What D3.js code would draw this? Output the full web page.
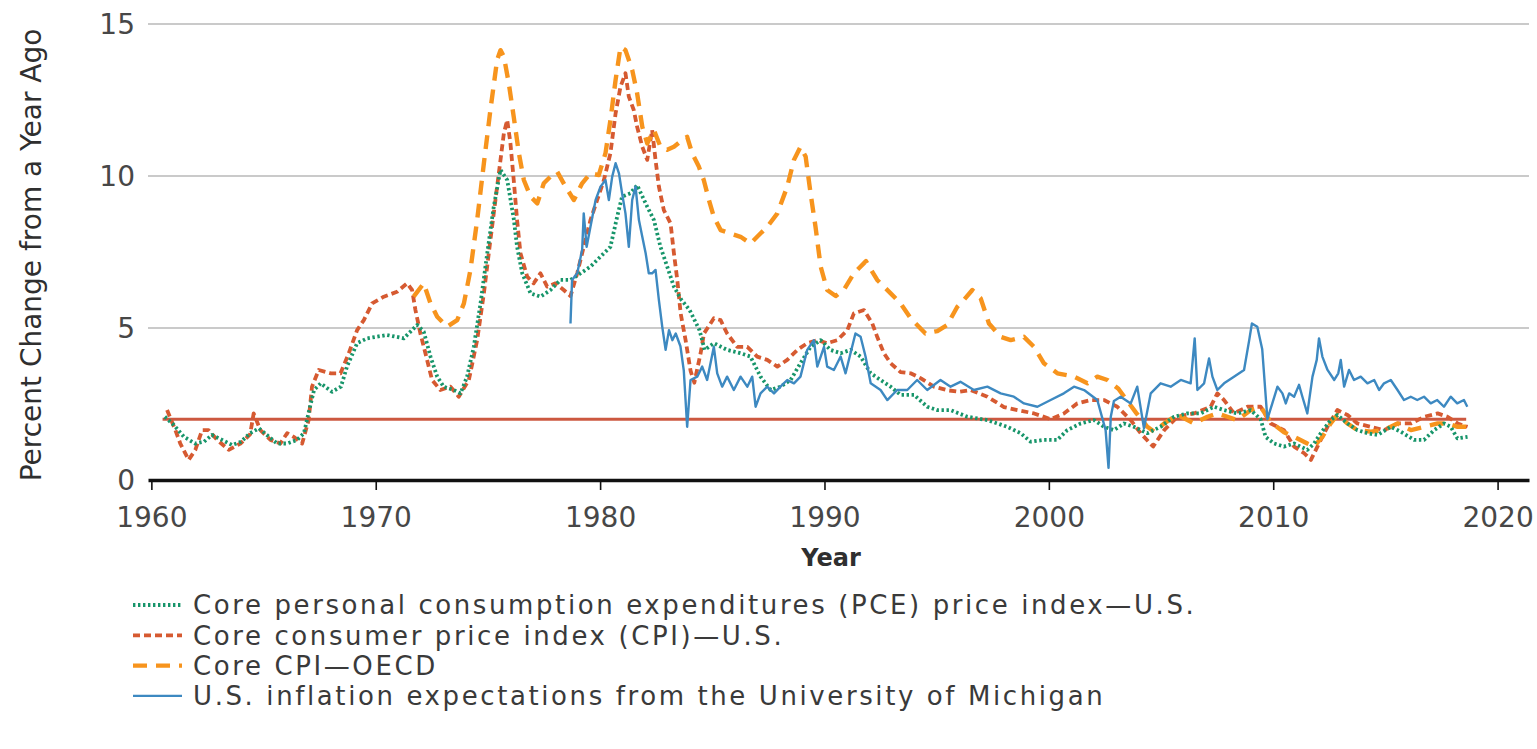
<!DOCTYPE html>
<html>
<head>
<meta charset="utf-8">
<script src="https://cdn.jsdelivr.net/npm/d3@7"></script>
<style>
  body { margin: 0; background: #fff; }
  svg { display: block; font-family: "DejaVu Sans", sans-serif; }
</style>
</head>
<body>
<svg id="canvas" width="1537" height="749"></svg>
<script>
// values: [year, percent change]
let pceData = [
  [1960.6, 2.08], [1961.0, 1.81], [1961.45, 1.42], [1961.95, 1.2], [1962.35, 1.26], [1962.7, 1.48],
  [1963.15, 1.32], [1963.6, 1.15], [1964.0, 1.26], [1964.4, 1.54], [1964.8, 1.7], [1965.15, 1.48],
  [1965.6, 1.2], [1966.05, 1.2], [1966.5, 1.32], [1966.8, 1.54], [1967.0, 2.19], [1967.25, 2.96],
  [1967.55, 3.18], [1968.05, 2.9], [1968.45, 3.07], [1968.72, 3.73], [1969.17, 4.5], [1969.62, 4.66],
  [1970.5, 4.77], [1971.25, 4.66], [1971.85, 5.1], [1972.14, 4.88], [1972.44, 4.06], [1972.74, 3.4],
  [1973.03, 3.07], [1973.48, 2.96], [1973.78, 2.85], [1974.07, 3.4], [1974.37, 4.38], [1974.67, 5.81],
  [1974.97, 7.46], [1975.26, 8.99], [1975.56, 10.2], [1975.86, 9.87], [1976.15, 8.6], [1976.3, 7.67],
  [1976.53, 6.8], [1976.9, 6.14], [1977.34, 6.03], [1977.79, 6.25], [1978.23, 6.58], [1978.68, 6.58],
  [1979.13, 6.8], [1979.57, 7.02], [1980.02, 7.35], [1980.46, 7.67], [1980.76, 8.66], [1980.98, 9.32],
  [1981.35, 9.43], [1981.65, 9.7], [1982.1, 8.99], [1982.4, 8.55], [1982.69, 7.67], [1982.99, 7.02],
  [1983.29, 6.36], [1983.6, 5.95], [1983.99, 5.59], [1984.43, 4.93], [1984.66, 4.28], [1985.07, 4.5],
  [1985.66, 4.28], [1986.26, 4.17], [1986.7, 4.06], [1987.15, 3.4], [1987.6, 2.96], [1988.04, 3.07],
  [1988.49, 3.29], [1988.93, 3.84], [1989.38, 4.38], [1989.83, 4.6], [1990.27, 4.28], [1990.72, 4.17],
  [1991.16, 4.28], [1991.61, 4.06], [1992.06, 3.51], [1992.5, 3.29], [1992.95, 3.07], [1993.39, 2.8],
  [1993.99, 2.8], [1994.58, 2.41], [1995.03, 2.3], [1995.62, 2.3], [1996.37, 2.08], [1997.26, 1.97],
  [1998.15, 1.75], [1998.74, 1.54], [1999.19, 1.26], [1999.78, 1.32], [2000.38, 1.32], [2000.82, 1.64],
  [2001.42, 1.86], [2002.01, 1.97], [2002.46, 1.75], [2002.9, 1.64], [2003.35, 1.86], [2003.79, 1.75],
  [2004.39, 1.54], [2004.98, 1.75], [2005.58, 2.08], [2006.17, 2.19], [2006.77, 2.19], [2007.36, 2.41],
  [2007.81, 2.3], [2008.4, 2.19], [2009.0, 2.3], [2009.44, 2.0], [2009.66, 1.42], [2010.04, 1.2],
  [2010.48, 1.1], [2010.93, 1.2], [2011.52, 0.99], [2011.82, 1.2], [2012.12, 1.54], [2012.56, 1.97],
  [2012.86, 2.14], [2013.31, 1.86], [2013.75, 1.64], [2014.2, 1.54], [2014.65, 1.48], [2015.24, 1.75],
  [2015.68, 1.59], [2016.28, 1.32], [2016.72, 1.32], [2017.17, 1.64], [2017.62, 1.86], [2017.91, 1.75],
  [2018.21, 1.37], [2018.66, 1.42]
];

let cpiData = [
  [1960.7, 2.3], [1961.07, 1.64], [1961.29, 1.2], [1961.66, 0.66], [1961.96, 0.99], [1962.26, 1.64],
  [1962.55, 1.64], [1962.93, 1.32], [1963.45, 0.99], [1963.97, 1.2], [1964.4, 1.5], [1964.56, 2.19],
  [1964.86, 1.64], [1965.31, 1.32], [1965.75, 1.2], [1966.05, 1.54], [1966.34, 1.42], [1966.72, 1.2],
  [1967.01, 1.97], [1967.16, 3.07], [1967.46, 3.62], [1967.98, 3.51], [1968.43, 3.51], [1968.8, 4.17],
  [1969.17, 4.93], [1969.47, 5.26], [1969.84, 5.81], [1970.36, 6.03], [1970.95, 6.19], [1971.4, 6.47],
  [1971.62, 6.25], [1971.77, 5.59], [1971.99, 4.82], [1972.29, 3.95], [1972.51, 3.29], [1972.88, 2.96],
  [1973.33, 3.07], [1973.7, 2.74], [1974.15, 3.29], [1974.52, 4.6], [1974.82, 6.14], [1975.11, 7.89],
  [1975.41, 9.65], [1975.71, 11.4], [1975.86, 11.84], [1976.0, 11.1], [1976.15, 9.87], [1976.3, 8.55],
  [1976.45, 7.46], [1976.75, 6.69], [1977.04, 6.47], [1977.34, 6.8], [1977.64, 6.36], [1978.01, 6.47],
  [1978.38, 6.25], [1978.68, 6.05], [1978.98, 6.8], [1979.27, 7.67], [1979.57, 8.55], [1979.87, 9.21],
  [1980.17, 9.87], [1980.46, 10.75], [1980.69, 12.06], [1980.91, 12.94], [1981.13, 13.38], [1981.28, 12.61],
  [1981.5, 12.17], [1981.65, 11.62], [1981.88, 10.96], [1982.1, 10.53], [1982.32, 11.51], [1982.47, 10.53],
  [1982.62, 9.65], [1982.84, 8.88], [1983.14, 8.44], [1983.29, 7.46], [1983.44, 6.58], [1983.59, 5.48],
  [1983.81, 4.6], [1984.03, 3.6], [1984.2, 3.2], [1984.48, 4.17], [1984.63, 4.82], [1985.07, 5.32],
  [1985.37, 5.26], [1985.66, 4.82], [1986.11, 4.38], [1986.56, 4.38], [1987.0, 4.06], [1987.45, 3.95],
  [1987.9, 3.73], [1988.34, 3.95], [1988.79, 4.28], [1989.23, 4.5], [1989.68, 4.6], [1990.12, 4.5],
  [1990.57, 4.6], [1991.02, 4.93], [1991.31, 5.48], [1991.76, 5.59], [1992.13, 5.15], [1992.35, 4.71],
  [1992.65, 4.17], [1992.95, 3.84], [1993.39, 3.55], [1993.84, 3.51], [1994.28, 3.35], [1994.88, 3.07],
  [1995.5, 2.95], [1996.0, 2.9], [1996.51, 2.96], [1997.26, 2.74], [1998.0, 2.4], [1998.6, 2.3],
  [1999.34, 2.19], [2000.08, 2.0], [2000.67, 2.19], [2001.27, 2.52], [2001.86, 2.63], [2002.46, 2.63],
  [2003.05, 2.41], [2003.65, 1.97], [2004.09, 1.54], [2004.65, 1.1], [2005.14, 1.64], [2005.73, 2.08],
  [2006.47, 2.19], [2007.21, 2.41], [2007.51, 2.85], [2007.81, 2.63], [2008.25, 2.19], [2008.85, 2.41],
  [2009.44, 2.41], [2009.89, 1.86], [2010.48, 1.64], [2010.93, 1.1], [2011.38, 0.88], [2011.68, 0.66],
  [2011.97, 1.1], [2012.42, 1.75], [2012.86, 2.3], [2013.31, 2.14], [2013.75, 1.86], [2014.35, 1.75],
  [2014.94, 1.64], [2015.54, 1.86], [2016.14, 1.86], [2016.73, 2.08], [2017.33, 2.19], [2017.77, 2.08],
  [2018.22, 1.86], [2018.66, 1.75]
];

let oecdData = [
  [1971.69, 6.03], [1972.14, 6.47], [1972.44, 5.81], [1972.74, 5.37], [1973.18, 5.04], [1973.63, 5.26],
  [1973.93, 5.81], [1974.22, 6.91], [1974.52, 8.55], [1974.82, 10.42], [1975.11, 12.17], [1975.41, 13.82],
  [1975.56, 14.14], [1975.71, 13.93], [1975.93, 13.05], [1976.15, 11.95], [1976.38, 10.75], [1976.6, 9.87],
  [1976.9, 9.32], [1977.2, 9.1], [1977.49, 9.76], [1977.79, 9.98], [1978.09, 10.14], [1978.46, 9.65],
  [1978.83, 9.21], [1979.2, 9.76], [1979.57, 10.09], [1979.94, 10.03], [1980.24, 10.75], [1980.46, 11.84],
  [1980.69, 13.16], [1980.91, 14.25], [1981.13, 14.14], [1981.43, 13.49], [1981.65, 12.72], [1981.88, 11.62],
  [1982.1, 11.07], [1982.4, 11.51], [1982.69, 10.96], [1982.99, 10.86], [1983.29, 10.96], [1983.66, 11.18],
  [1983.88, 11.29], [1984.1, 10.75], [1984.4, 10.31], [1984.62, 9.87], [1984.85, 9.21], [1985.07, 8.66],
  [1985.37, 8.22], [1985.81, 8.11], [1986.26, 8.0], [1986.7, 7.78], [1987.0, 8.0], [1987.45, 8.33],
  [1987.9, 8.77], [1988.34, 9.65], [1988.64, 10.53], [1988.93, 10.96], [1989.16, 10.64], [1989.38, 9.43],
  [1989.6, 8.33], [1989.83, 7.02], [1990.12, 6.25], [1990.5, 6.05], [1990.9, 6.3], [1991.31, 6.8],
  [1991.85, 7.2], [1992.35, 6.58], [1992.95, 6.14], [1993.4, 5.8], [1993.84, 5.32], [1994.5, 4.82],
  [1995.03, 4.9], [1995.47, 5.1], [1995.92, 5.7], [1996.21, 5.92], [1996.59, 6.25], [1996.96, 5.98],
  [1997.33, 5.15], [1997.85, 4.71], [1998.3, 4.6], [1998.89, 4.71], [1999.34, 4.38], [1999.78, 3.84],
  [2000.38, 3.51], [2001.12, 3.4], [2001.72, 3.18], [2002.16, 3.4], [2002.61, 3.29], [2003.1, 3.0],
  [2003.5, 2.6], [2003.9, 2.2], [2004.39, 1.75], [2004.69, 1.59], [2005.14, 1.86], [2005.73, 2.15],
  [2006.47, 1.86], [2007.07, 2.08], [2007.51, 2.19], [2007.96, 2.08], [2008.4, 1.97], [2009.0, 2.3],
  [2009.44, 2.41], [2009.89, 1.9], [2010.48, 1.57], [2010.93, 1.42], [2011.52, 1.2], [2011.82, 1.1],
  [2012.19, 1.42], [2012.56, 1.86], [2012.86, 2.14], [2013.31, 1.86], [2013.75, 1.64], [2014.35, 1.59],
  [2014.94, 1.64], [2015.54, 1.86], [2016.14, 1.64], [2016.73, 1.75], [2017.33, 1.86], [2017.77, 1.86],
  [2018.22, 1.75], [2018.66, 1.75]
];

let michiganData = [
  [1978.68, 5.15], [1978.75, 6.58], [1978.98, 6.8], [1979.2, 7.57], [1979.27, 8.77], [1979.4, 7.67],
  [1979.57, 8.33], [1979.8, 9.21], [1980.02, 9.65], [1980.24, 9.87], [1980.39, 9.21], [1980.54, 9.98],
  [1980.69, 10.42], [1980.84, 10.09], [1980.98, 9.43], [1981.13, 8.77], [1981.28, 7.67], [1981.43, 9.21],
  [1981.58, 9.65], [1981.73, 8.55], [1981.88, 8.0], [1982.03, 7.46], [1982.17, 6.8], [1982.32, 6.8],
  [1982.47, 6.91], [1982.62, 5.92], [1982.77, 5.04], [1982.92, 4.28], [1983.07, 4.93], [1983.22, 4.6],
  [1983.37, 4.82], [1983.58, 4.4], [1983.73, 3.6], [1983.88, 1.75], [1984.03, 3.29], [1984.33, 3.4],
  [1984.55, 3.73], [1984.77, 3.29], [1985.07, 4.38], [1985.22, 3.51], [1985.44, 3.07], [1985.66, 3.4],
  [1985.96, 2.96], [1986.26, 3.4], [1986.56, 3.07], [1986.78, 3.4], [1986.93, 2.41], [1987.15, 2.85],
  [1987.45, 3.07], [1987.75, 2.85], [1988.04, 3.07], [1988.34, 3.29], [1988.64, 3.18], [1988.93, 3.4],
  [1989.23, 4.28], [1989.53, 4.6], [1989.68, 3.73], [1989.98, 4.38], [1990.12, 3.73], [1990.42, 3.62],
  [1990.72, 4.06], [1990.94, 3.51], [1991.16, 4.17], [1991.38, 4.82], [1991.61, 4.71], [1991.83, 4.06],
  [1992.06, 3.18], [1992.5, 2.96], [1992.8, 2.63], [1993.24, 2.96], [1993.69, 2.96], [1994.13, 3.29],
  [1994.58, 2.96], [1995.17, 3.29], [1995.62, 3.07], [1996.06, 3.23], [1996.66, 2.96], [1997.26, 3.07],
  [1997.85, 2.85], [1998.44, 2.74], [1998.89, 2.52], [1999.49, 2.41], [2000.08, 2.63], [2000.67, 2.85],
  [2001.12, 3.07], [2001.57, 2.96], [2002.16, 2.63], [2002.53, 1.64], [2002.66, 0.4], [2002.76, 2.08],
  [2002.9, 2.6], [2003.2, 2.74], [2003.65, 2.52], [2003.94, 3.07], [2004.24, 1.7], [2004.54, 2.85],
  [2004.98, 3.18], [2005.43, 3.07], [2005.88, 3.29], [2006.32, 3.18], [2006.5, 4.66], [2006.62, 2.96],
  [2006.92, 3.18], [2007.14, 4.0], [2007.29, 3.4], [2007.51, 2.96], [2007.81, 3.18], [2008.25, 3.4],
  [2008.7, 3.62], [2008.93, 4.6], [2009.05, 5.15], [2009.29, 5.04], [2009.51, 4.3], [2009.74, 2.0],
  [2009.96, 2.52], [2010.19, 3.07], [2010.41, 2.85], [2010.56, 2.52], [2010.71, 2.85], [2010.93, 2.74],
  [2011.15, 3.13], [2011.3, 2.74], [2011.52, 2.19], [2011.75, 3.4], [2011.94, 3.95], [2012.04, 4.66],
  [2012.19, 4.06], [2012.42, 3.62], [2012.72, 3.29], [2012.9, 3.51], [2013.01, 3.95], [2013.16, 3.07],
  [2013.38, 3.62], [2013.6, 3.29], [2013.9, 3.4], [2014.2, 3.18], [2014.5, 3.29], [2014.72, 2.96],
  [2014.94, 3.18], [2015.24, 3.29], [2015.54, 2.96], [2015.83, 2.63], [2016.13, 2.74], [2016.42, 2.63],
  [2016.72, 2.74], [2017.02, 2.52], [2017.31, 2.63], [2017.61, 2.41], [2017.91, 2.74], [2018.2, 2.52],
  [2018.5, 2.63], [2018.65, 2.41]
];

let targetValue = 2;
let targetYears = [1960.5, 2018.6];

let xTicks = [1960, 1970, 1980, 1990, 2000, 2010, 2020];
let yTicks = [0, 5, 10, 15];

let legendLabels = [
  'Core personal consumption expenditures (PCE) price index\u2014U.S.',
  'Core consumer price index (CPI)\u2014U.S.',
  'Core CPI\u2014OECD',
  'U.S. inflation expectations from the University of Michigan'
];

let canvas = d3.select('#canvas');

let x = d3.scaleLinear().domain([1959.85, 2021.4]).range([148, 1529]);
let y = d3.scaleLinear().domain([0, 15]).range([480, 24]);

// series styles, in legend order
let series = [
  { data: pceData, color: '#17956a', width: 3.8, dash: '2.4,2.6' },
  { data: cpiData, color: '#d65a31', width: 3.8, dash: '7,4' },
  { data: oecdData, color: '#f7941d', width: 4.4, dash: '14,9' },
  { data: michiganData, color: '#3d89c1', width: 2.4, dash: null }
];

// horizontal grid
canvas.append('g').
selectAll('line').
data(yTicks.filter(t => t > 0)).
enter().
append('line').
attr('x1', 148).
attr('x2', 1529).
attr('y1', t => y(t)).
attr('y2', t => y(t)).
attr('stroke', '#cacaca').
attr('stroke-width', 2);

// y tick labels
canvas.append('g').
selectAll('text').
data(yTicks).
enter().
append('text').
attr('x', 135).
attr('y', t => y(t)).
attr('dy', '0.36em').
attr('text-anchor', 'end').
attr('font-size', 28).
attr('fill', '#474747').
text(t => t);

// 2 percent reference line
canvas.append('line').
attr('x1', x(targetYears[0])).
attr('x2', x(targetYears[1])).
attr('y1', y(targetValue)).
attr('y2', y(targetValue)).
attr('stroke', '#cc5840').
attr('stroke-width', 3);

let line = d3.line().
x(d => x(d[0])).
y(d => y(d[1]));

let drawOrder = [1, 2, 0, 3];
drawOrder.forEach(i => {
  let s = series[i];
  canvas.append('path').
  datum(s.data).
  attr('d', line).
  attr('fill', 'none').
  attr('stroke', s.color).
  attr('stroke-width', s.width).
  attr('stroke-dasharray', s.dash).
  attr('stroke-linejoin', 'round');
});

// x axis
let xAxis = d3.axisBottom(x).
tickValues(xTicks).
tickFormat(d3.format('d')).
tickSize(10).
tickSizeOuter(0).
tickPadding(17);

let axisGroup = canvas.append('g').
attr('transform', 'translate(0, 480)').
call(xAxis);

axisGroup.select('.domain').
attr('stroke', '#111').
attr('stroke-width', 3.5);
axisGroup.selectAll('.tick line').
attr('stroke', '#111').
attr('stroke-width', 1.6);
axisGroup.selectAll('.tick text').
attr('font-size', 28).
attr('font-family', '"DejaVu Sans", sans-serif').
attr('fill', '#474747');

// axis titles
canvas.append('text').
attr('transform', 'translate(41, 255) rotate(-90)').
attr('text-anchor', 'middle').
attr('font-size', 28).
attr('fill', '#2f2f2f').
text('Percent Change from a Year Ago');

canvas.append('text').
attr('x', 831).
attr('y', 566).
attr('text-anchor', 'middle').
attr('font-size', 24).
attr('font-weight', 'bold').
attr('fill', '#2f2f2f').
text('Year');

// legend
let legend = canvas.append('g').
selectAll('g').
data(series).
enter().
append('g').
attr('transform', (s, i) => 'translate(0, ' + (605 + i * 30.3) + ')');

legend.append('line').
attr('x1', 133).
attr('x2', 182).
attr('stroke', s => s.color).
attr('stroke-width', s => s.width).
attr('stroke-dasharray', s => s.dash);

legend.append('text').
attr('x', 193).
attr('dy', '0.36em').
attr('font-size', 26).
attr('letter-spacing', 2.6).
attr('fill', '#3a3a3a').
text((s, i) => legendLabels[i]);
</script>
</body>
</html>
